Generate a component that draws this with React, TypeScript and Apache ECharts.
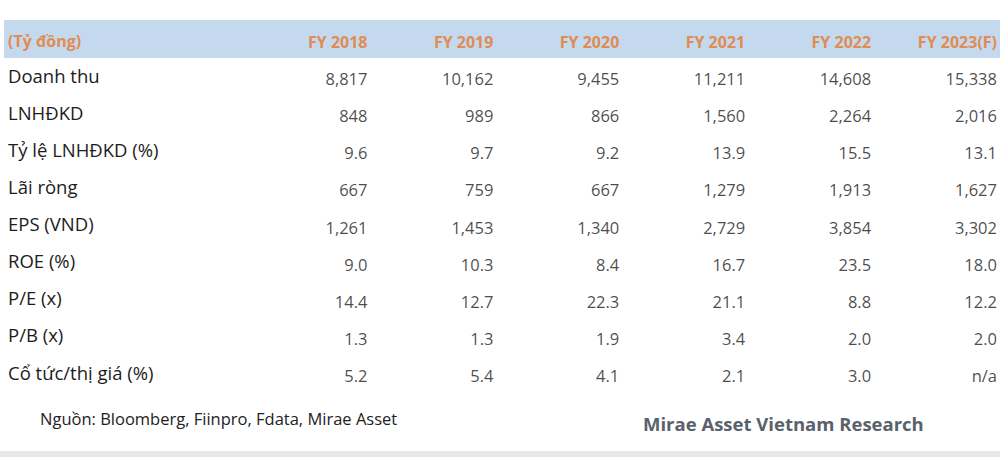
import React, { useEffect, useRef } from "react";
import * as echarts from "echarts";

const years = ["FY 2018", "FY 2019", "FY 2020", "FY 2021", "FY 2022", "FY 2023(F)"];
const rowLabels = [
  "Doanh thu",
  "LNHĐKD",
  "Tỷ lệ LNHĐKD (%)",
  "Lãi ròng",
  "EPS (VND)",
  "ROE (%)",
  "P/E (x)",
  "P/B (x)",
  "Cổ tức/thị giá (%)",
];
const revenue = [8817, 10162, 9455, 11211, 14608, 15338];
const operatingProfit = [848, 989, 866, 1560, 2264, 2016];
const operatingMargin = [9.6, 9.7, 9.2, 13.9, 15.5, 13.1];
const netProfit = [667, 759, 667, 1279, 1913, 1627];
const eps = [1261, 1453, 1340, 2729, 3854, 3302];
const roe = [9.0, 10.3, 8.4, 16.7, 23.5, 18.0];
const pe = [14.4, 12.7, 22.3, 21.1, 8.8, 12.2];
const pb = [1.3, 1.3, 1.9, 3.4, 2.0, 2.0];
const dividendYield: (number | null)[] = [5.2, 5.4, 4.1, 2.1, 3.0, null];
const rowDecimals = [0, 0, 1, 0, 0, 1, 1, 1, 1];
const unitLabel = "(Tỷ đồng)";
const sourceNote = "Nguồn: Bloomberg, Fiinpro, Fdata, Mirae Asset";
const brandNote = "Mirae Asset Vietnam Research";

const rows: (number | null)[][] = [
  revenue,
  operatingProfit,
  operatingMargin,
  netProfit,
  eps,
  roe,
  pe,
  pb,
  dividendYield,
];

function fmt(v: number | null, d: number): string {
  if (v === null || v === undefined) return "n/a";
  return v.toLocaleString("en-US", { minimumFractionDigits: d, maximumFractionDigits: d });
}

const FONT = "'Open Sans', 'Noto Sans', sans-serif";
const ORANGE = "#e08c52";

export default function App() {
  const ref = useRef<HTMLDivElement>(null);
  useEffect(() => {
    if (!ref.current) return;
    const chart = echarts.init(ref.current, undefined, { renderer: "svg" });
    const cells: any[] = [];
    rows.forEach((arr, r) => {
      arr.forEach((v, c) => {
        cells.push({ value: [c, r], text: fmt(v, rowDecimals[r]) });
      });
    });
    chart.setOption({
      animation: false,
      backgroundColor: "#ffffff",
      grid: { left: 367.5, right: 1, top: 75, bottom: 85, containLabel: false },
      xAxis: {
        type: "category",
        data: years,
        position: "top",
        boundaryGap: false,
        z: 10,
        axisLine: { show: false },
        axisTick: { show: false },
        splitLine: { show: false },
        axisLabel: {
          interval: 0,
          align: "right",
          verticalAlign: "middle",
          margin: 33,
          color: ORANGE,
          fontWeight: "bold",
          fontSize: 16,
          fontFamily: FONT,
        },
      },
      yAxis: {
        type: "category",
        data: rowLabels,
        inverse: true,
        boundaryGap: false,
        z: 10,
        axisLine: { show: false },
        axisTick: { show: false },
        splitLine: { show: false },
        axisLabel: {
          interval: 0,
          align: "left",
          verticalAlign: "middle",
          margin: 359.5,
          color: "#1c1c1c",
          fontSize: 18.5,
          fontFamily: FONT,
        },
      },
      series: [
        {
          type: "scatter",
          symbolSize: 0,
          data: cells,
          z: 10,
          label: {
            show: true,
            position: "inside",
            align: "right",
            verticalAlign: "middle",
            offset: [0, 3.5],
            color: "#1c1c1c",
            fontSize: 16.5,
            fontFamily: FONT,
            formatter: (p: any) => p.data.text,
          },
        },
      ],
      graphic: [
        {
          type: "rect",
          z: -10,
          shape: { x: 4, y: 20, width: 996, height: 38 },
          style: { fill: "#c5d9ee" },
        },
        {
          type: "rect",
          z: -10,
          shape: { x: 0, y: 451, width: 1000, height: 6 },
          style: { fill: "#e8e8e8" },
        },
        {
          type: "text",
          x: 8,
          y: 41,
          z: 10,
          style: {
            text: unitLabel,
            fill: ORANGE,
            font: `bold 16px ${FONT}`,
            verticalAlign: "middle",
          },
        },
        {
          type: "text",
          x: 40,
          y: 418,
          z: 10,
          style: {
            text: sourceNote,
            fill: "#222222",
            font: `16.5px ${FONT}`,
            verticalAlign: "middle",
          },
        },
        {
          type: "text",
          x: 643,
          y: 423,
          z: 10,
          style: {
            text: brandNote,
            fill: "#59616b",
            font: `bold 18.5px ${FONT}`,
            verticalAlign: "middle",
          },
        },
      ],
    });
    return () => chart.dispose();
  }, []);
  return (
    <div
      ref={ref}
      style={{ position: "absolute", left: 0, top: 0, width: 1000, height: 457, background: "#fff" }}
    />
  );
}
